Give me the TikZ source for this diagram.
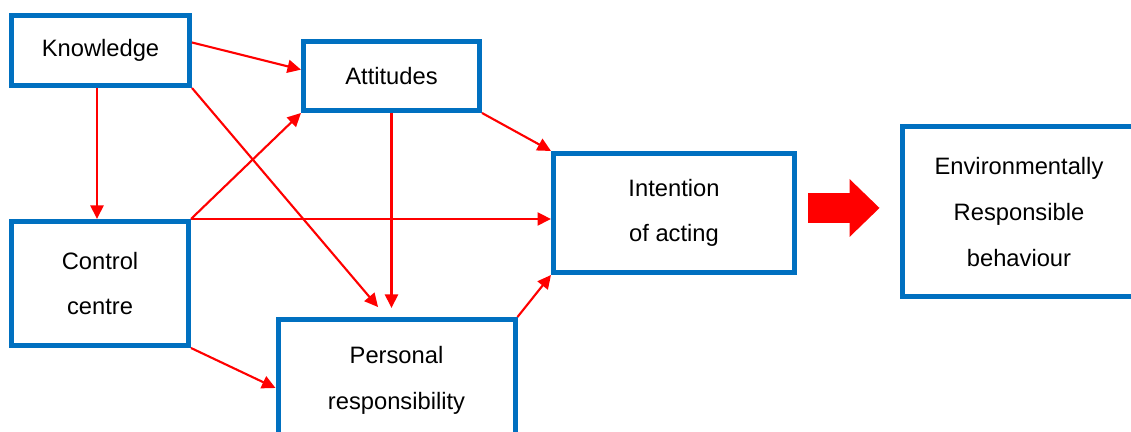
\documentclass[tikz,border=0pt]{standalone}
\usepackage{fontspec}
\setmainfont{Liberation Sans}
\usepackage{tikz}
\usetikzlibrary{positioning,arrows.meta,calc}
\definecolor{boxblue}{RGB}{0,112,192}

\begin{document}
\begin{tikzpicture}[
  box/.style={rectangle, draw=boxblue, line width=0.1cm, fill=white, inner sep=0pt,
              align=center, font=\fontsize{13.5}{26}\selectfont},
  arrow/.style={-{Triangle[length=0.27cm, width=0.26cm]}, draw=red, line width=1.2pt},
  bigarrow/.style={-{Triangle[length=0.6cm, width=1.16cm, line width=0pt]}, draw=red, line width=0.6cm}
]
\useasboundingbox (0,0) rectangle (22.62,8.64);

% Factor boxes
\node[box, minimum width=3.56cm, minimum height=1.40cm] (knowledge) at (2.01,7.63) {Knowledge};
\node[box, minimum width=3.52cm, minimum height=1.38cm] (attitudes) at (7.83,7.12) {Attitudes};
\node[box, minimum width=3.54cm, minimum height=2.48cm] (control) at (2.00,2.97) {Control\\centre};
\node[box, minimum width=4.74cm, minimum height=2.44cm] (personal) at (7.93,1.03) {Personal\\responsibility};
\node[box, minimum width=4.82cm, minimum height=2.38cm] (intention) at (13.48,4.38) {Intention\\of acting};
\node[box, minimum width=4.68cm, minimum height=3.40cm] (env) at (20.38,4.40) {Environmentally\\Responsible\\behaviour};

% Arrows
\draw[arrow] (knowledge.5) -- (attitudes.176);
\draw[arrow] ([xshift=-0.07cm]knowledge.south) -- ([xshift=-0.07cm]knowledge.south |- control.north);
\draw[arrow, shorten >=0.26cm] (knowledge.south east) -- ([xshift=-0.2cm]personal.north);
\draw[arrow] (control.north east) -- (attitudes.south west);
\draw[arrow] (control.north east) -- (control.north east -| intention.west);
\draw[arrow, shorten >=0.18cm] (attitudes.south) -- (attitudes.south |- personal.north);
\draw[arrow] (attitudes.south east) -- (intention.north west);
\draw[arrow] (control.south east) -- ([yshift=-0.15cm]personal.west);
\draw[arrow] (personal.north east) -- (intention.south west);

% Result
\draw[bigarrow, shorten <=0.22cm, shorten >=0.4cm] ([yshift=0.1cm]intention.east) -- ([yshift=0.1cm]intention.east -| env.west);

\end{tikzpicture}
\end{document}
